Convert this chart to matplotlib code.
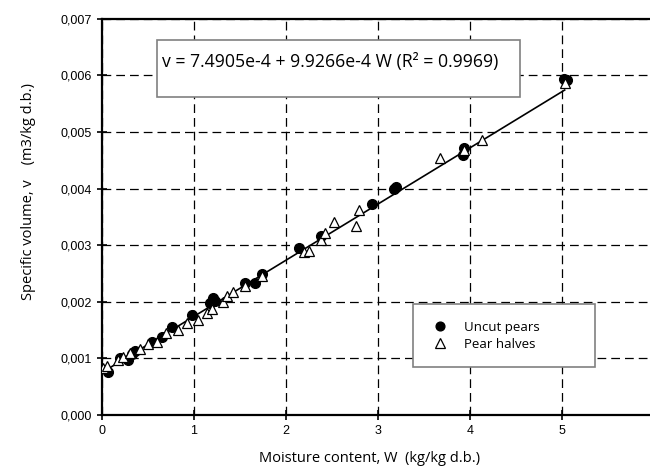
"""
Specific volume of pears vs moisture content (dry basis), with linear fit.
"""

import numpy as np
import matplotlib.pyplot as plt
from matplotlib.patches import Rectangle

# ── Data ────────────────────────────────────────────────────────────────────
uncut_W = [0.07, 0.20, 0.28, 0.33, 0.36, 0.54, 0.65, 0.76, 0.98, 1.17, 1.21,
           1.23, 1.55, 1.66, 1.74, 2.14, 2.38, 2.94, 3.17, 3.20, 3.92, 3.93,
           5.02, 5.05]
uncut_v = [0.00076, 0.00101, 0.00097, 0.00108, 0.00113, 0.00129, 0.00138,
           0.00155, 0.00177, 0.00198, 0.00206, 0.00201, 0.00233, 0.00233,
           0.00249, 0.00295, 0.00316, 0.00372, 0.00400, 0.00402, 0.00460,
           0.00472, 0.00593, 0.00592]

halves_W = [0.01, 0.05, 0.17, 0.23, 0.30, 0.41, 0.50, 0.60, 0.70, 0.83, 0.92,
            1.04, 1.14, 1.20, 1.32, 1.36, 1.42, 1.55, 1.74, 2.20, 2.25, 2.38,
            2.42, 2.52, 2.76, 2.79, 3.67, 3.93, 4.13, 5.03]
halves_v = [0.00083, 0.00086, 0.00097, 0.00102, 0.00110, 0.00117, 0.00125,
            0.00129, 0.00145, 0.00150, 0.00163, 0.00168, 0.00180, 0.00188,
            0.00200, 0.00211, 0.00217, 0.00228, 0.00246, 0.00288, 0.00290,
            0.00309, 0.00322, 0.00341, 0.00334, 0.00362, 0.00454, 0.00468,
            0.00486, 0.00586]

# Linear fit v = a + b W (coefficients from the figure's equation)
FIT_A, FIT_B = 7.4905e-4, 9.9266e-4
FIT_W_RANGE = [0.0, 5.03]

x_ticks = [0, 1, 2, 3, 4, 5, 6]
y_ticks = [0.000, 0.001, 0.002, 0.003, 0.004, 0.005, 0.006, 0.007]
y_tick_labels = ["0,000", "0,001", "0,002", "0,003",
                 "0,004", "0,005", "0,006", "0,007"]

LABEL_FONT = "Open Sans"
TICK_FONT = "Liberation Sans"

fig = plt.figure(figsize=(6.5, 4.72), dpi=100)
ax = fig.add_axes([0.157, 0.121, 0.849, 0.839])

# Grid (dashed, black)
ax.set_axisbelow(True)
ax.grid(True, color="black", ls=(0, (7, 4)), lw=0.9)

# Fit line
fit_w = np.array(FIT_W_RANGE)
ax.plot(fit_w, FIT_A + FIT_B * fit_w, color="black", lw=1.2, zorder=3)

# Points
ax.plot(uncut_W, uncut_v, "o", ls="none", color="black", ms=7,
        label="Uncut pears", zorder=4)
ax.plot(halves_W, halves_v, "^", ls="none", mfc="white", mec="black",
        mew=0.9, ms=7.5, label="Pear halves", zorder=5)

ax.set_xlim(0, 6)
ax.set_ylim(0, 0.007)
ax.set_xticks(x_ticks)
ax.set_yticks(y_ticks)
ax.set_yticklabels(y_tick_labels)
ax.tick_params(direction="inout", length=7, width=1.2, labelsize=9, pad=4)
for lbl in ax.get_xticklabels() + ax.get_yticklabels():
    lbl.set_fontfamily(TICK_FONT)
for side in ("left", "bottom", "top"):
    ax.spines[side].set_linewidth(1.6)
ax.spines["right"].set_visible(False)

ax.set_xlabel("Moisture content, W  (kg/kg d.b.)", fontsize=10.5,
              fontfamily=LABEL_FONT, labelpad=5)
ax.set_ylabel("Specific volume, v    (m3/kg d.b.)", fontsize=10.5,
              fontfamily=LABEL_FONT)
ax.xaxis.set_label_coords(0.485, -0.09)
ax.yaxis.set_label_coords(-0.12, 0.565)

# Equation box
ax.add_patch(Rectangle((0.0996, 0.803), 0.657, 0.144, transform=ax.transAxes,
                       facecolor="white", edgecolor="#808080", lw=1.2,
                       zorder=6))
ax.text(0.109, 0.89, "v = 7.4905e-4 + 9.9266e-4 W (R² = 0.9969)",
        transform=ax.transAxes, fontsize=12.7, fontfamily=LABEL_FONT,
        va="center", ha="left", zorder=7)

# Legend
leg = ax.legend(loc="center", bbox_to_anchor=(0.563, 0.116, 0.33, 0.167),
                mode="expand", borderaxespad=0, fancybox=False, framealpha=1,
                edgecolor="#808080", borderpad=1.25, labelspacing=0.3,
                handlelength=1.6, handletextpad=1.0, markerscale=0.9,
                prop={"family": LABEL_FONT, "size": 9.5})
leg.get_frame().set_linewidth(1.2)
leg.set_zorder(8)

fig.savefig("out.png", dpi=100)
